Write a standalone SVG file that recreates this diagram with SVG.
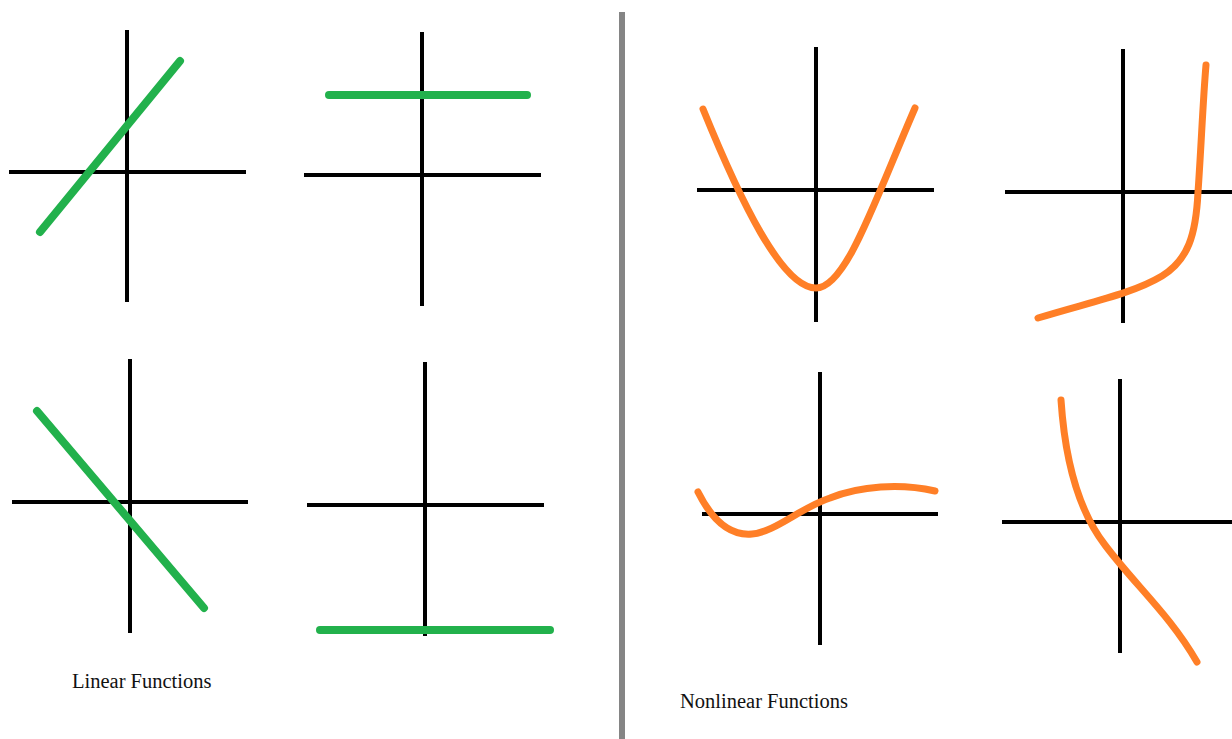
<svg xmlns="http://www.w3.org/2000/svg" width="1232" height="739" viewBox="0 0 1232 739">
<style>
.axis{stroke:#000;stroke-width:4;fill:none}
.lin{stroke:#22b14c;stroke-width:8;stroke-linecap:round;fill:none}
.non{stroke:#ff7f27;stroke-width:7;stroke-linecap:round;stroke-linejoin:round;fill:none}
.lbl{font-family:"Liberation Serif","Times New Roman",serif;font-size:20.5px;fill:#111}
</style>
<rect width="1232" height="739" fill="#fff"/>
<g id="divider"><line x1="622" y1="12" x2="622" y2="739" stroke="#858585" stroke-width="6"/></g>
<g id="linear-increasing">
<line class="axis" x1="127" y1="30" x2="127" y2="302"/>
<line class="axis" x1="9" y1="172" x2="246" y2="172"/>
<line class="lin" x1="40" y1="232" x2="180" y2="61"/>
</g>
<g id="linear-constant-positive">
<line class="axis" x1="422" y1="32" x2="422" y2="306"/>
<line class="axis" x1="304" y1="175" x2="541" y2="175"/>
<line class="lin" x1="329" y1="95" x2="527" y2="95"/>
</g>
<g id="linear-decreasing">
<line class="axis" x1="130" y1="359" x2="130" y2="633"/>
<line class="axis" x1="12" y1="502" x2="248" y2="502"/>
<line class="lin" x1="37" y1="411" x2="204" y2="608"/>
</g>
<g id="linear-constant-negative">
<line class="axis" x1="425" y1="362" x2="425" y2="636"/>
<line class="axis" x1="307" y1="505" x2="544" y2="505"/>
<line class="lin" x1="320" y1="630" x2="550" y2="630"/>
</g>
<g id="nonlinear-parabola">
<line class="axis" x1="816" y1="47" x2="816" y2="322"/>
<line class="axis" x1="697" y1="190" x2="934" y2="190"/>
<path class="non" d="M703,109 C740,200 782,288 816,288 C846,288 875,200 915,108"/>
</g>
<g id="nonlinear-exponential">
<line class="axis" x1="1123" y1="49" x2="1123" y2="323"/>
<line class="axis" x1="1005" y1="192" x2="1232" y2="192"/>
<path class="non" d="M1038,318 C1090,302 1132,294 1162,276 C1188,260 1196,235 1198,192 C1201,150 1203,100 1206,65"/>
</g>
<g id="nonlinear-cubic">
<line class="axis" x1="820" y1="372" x2="820" y2="645"/>
<line class="axis" x1="702" y1="514" x2="938" y2="514"/>
<path class="non" d="M698,492 C712,520 730,536 752,534 C775,532 800,508 830,498 C860,486 900,483 935,491"/>
</g>
<g id="nonlinear-decreasing">
<line class="axis" x1="1120" y1="379" x2="1120" y2="653"/>
<line class="axis" x1="1002" y1="522" x2="1232" y2="522"/>
<path class="non" d="M1061,400 C1065,460 1078,510 1105,545 C1135,585 1170,615 1197,662"/>
</g>
<g id="labels">
<text class="lbl" x="72" y="688">Linear Functions</text>
<text class="lbl" x="680" y="708">Nonlinear Functions</text>
</g>
</svg>
